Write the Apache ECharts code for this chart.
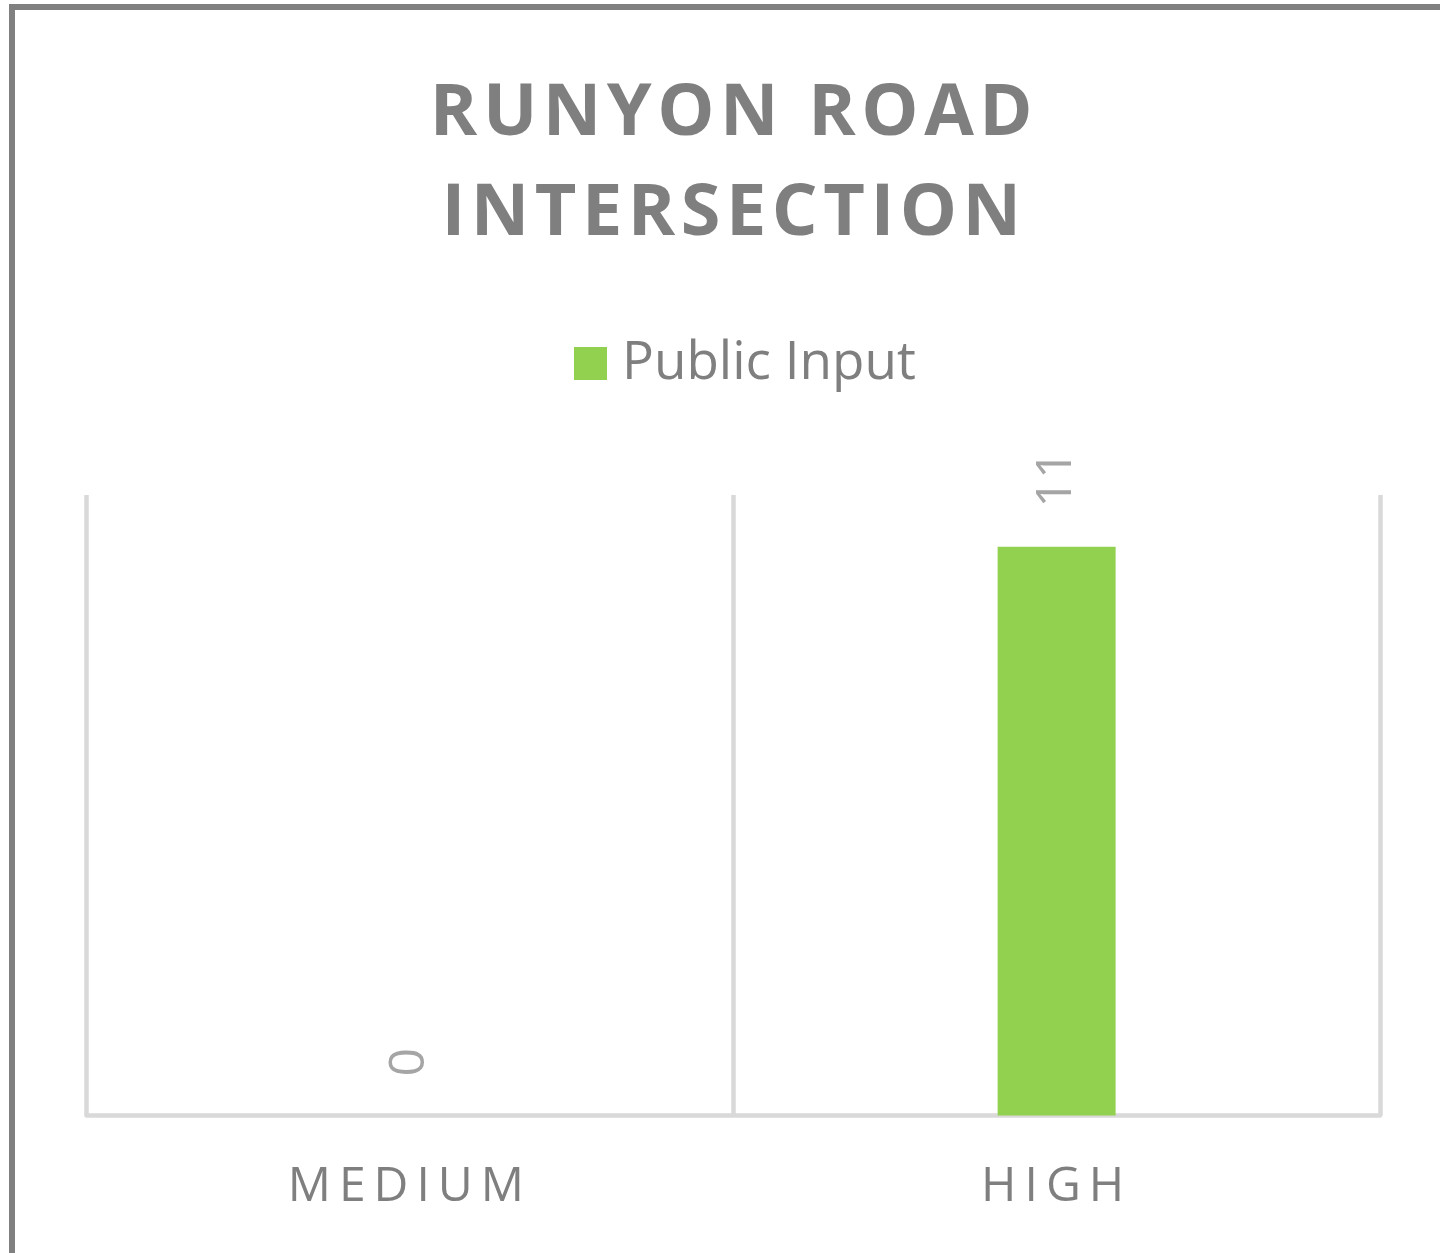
<!DOCTYPE html>
<html>
<head>
<meta charset="utf-8">
<title>Runyon Road Intersection</title>
<script src="https://cdn.jsdelivr.net/npm/echarts@6/dist/echarts.min.js"></script>
<style>
  html, body { margin: 0; padding: 0; background: #ffffff; }
  #chart { width: 1440px; height: 1253px; }
</style>
</head>
<body>
<div id="chart"></div>
<script>
// Chart data
const categories = ['MEDIUM', 'HIGH'];
const seriesName = 'Public Input';
const publicInput = [0, 11];
const titleLines = ['RUNYON ROAD', 'INTERSECTION'];

// Tracked (letter-spaced) text for the title and the category labels.
// Canvas letterSpacing is set per font size right before each fillText call;
// every other text is drawn with normal spacing.
const trackedSizes = { '72px': '5.5px', '48px': '8px' };
const origFillText = CanvasRenderingContext2D.prototype.fillText;
CanvasRenderingContext2D.prototype.fillText = function (text, x, y, maxWidth) {
  let spacing = '0px';
  for (const size in trackedSizes) {
    if (this.font.indexOf(size) !== -1) { spacing = trackedSizes[size]; break; }
  }
  if ('letterSpacing' in this) this.letterSpacing = spacing;
  if (maxWidth === undefined) origFillText.call(this, text, x, y);
  else origFillText.call(this, text, x, y, maxWidth);
  if ('letterSpacing' in this) this.letterSpacing = '0px';
};

const chart = echarts.init(document.getElementById('chart'), null, { renderer: 'canvas' });

const gray = '#7f7f7f';
const gridGray = '#d9d9d9';

chart.setOption({
  backgroundColor: '#ffffff',
  animation: false,
  graphic: [{
    type: 'rect',
    shape: { x: 12, y: 7, width: 3000, height: 3000 },
    style: { fill: null, stroke: '#808080', lineWidth: 6 },
    silent: true
  }],
  title: {
    text: titleLines.join('\n'),
    left: 734,
    top: 64,
    padding: 0,
    textAlign: 'center',
    textStyle: {
      fontFamily: 'Open Sans',
      fontWeight: 'bold',
      fontSize: 72,
      lineHeight: 100,
      color: gray
    }
  },
  legend: {
    data: [seriesName],
    left: 574,
    top: 337,
    padding: 0,
    itemWidth: 33,
    itemHeight: 33,
    icon: 'rect',
    textStyle: {
      fontFamily: 'Open Sans',
      fontSize: 53,
      color: gray,
      padding: [4, 0, 0, 10]
    }
  },
  grid: {
    left: 86.5,
    right: 60,
    top: 495,
    bottom: 137.5,
    containLabel: false
  },
  xAxis: {
    type: 'category',
    data: categories,
    boundaryGap: true,
    axisLine: { show: true, lineStyle: { color: gridGray, width: 4.5 } },
    axisTick: { show: false },
    axisLabel: {
      fontFamily: 'Open Sans',
      fontSize: 48,
      color: gray,
      margin: 48
    },
    splitLine: { show: true, lineStyle: { color: gridGray, width: 4.5 } }
  },
  yAxis: {
    type: 'value',
    min: 0,
    max: 12,
    show: false,
    splitLine: { show: false }
  },
  series: [{
    name: seriesName,
    type: 'bar',
    data: publicInput,
    barWidth: 118,
    itemStyle: { color: '#92d050' },
    label: {
      show: true,
      position: 'top',
      distance: 39,
      rotate: 90,
      align: 'left',
      verticalAlign: 'middle',
      fontFamily: 'Open Sans',
      fontSize: 50,
      color: '#a5a5a5'
    }
  }]
});
</script>
</body>
</html>
